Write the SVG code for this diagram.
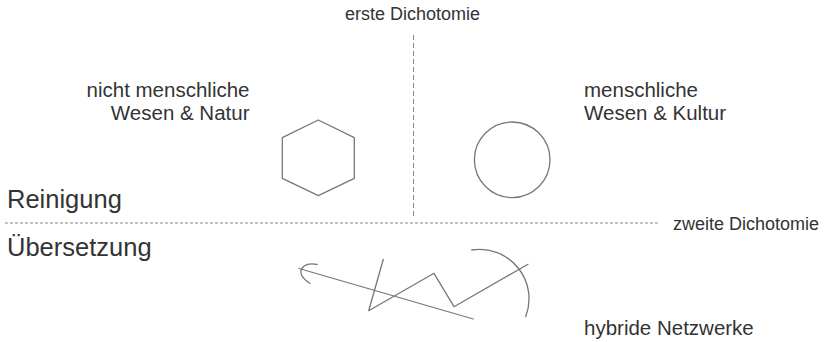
<svg xmlns="http://www.w3.org/2000/svg" width="824" height="342" viewBox="0 0 824 342">
  <style>
    text { font-family: "Liberation Sans", Arial, sans-serif; fill: #333; }
    .small { font-size: 18px; }
    .label { font-size: 20.5px; }
    .big { font-size: 25.5px; }
    .shape { fill: none; stroke: #777; stroke-width: 1.3; stroke-linejoin: round; stroke-linecap: round; }
    .divider { fill: none; stroke: #888; stroke-width: 1; }
  </style>
  <rect width="824" height="342" fill="#fff"/>

  <!-- dividing lines -->
  <g id="dividers">
    <line class="divider" x1="413.5" y1="35" x2="413.5" y2="217" stroke-dasharray="5 3"/>
    <line class="divider" x1="5" y1="223" x2="658" y2="223" stroke-dasharray="3 2"/>
  </g>

  <g id="erste-dichotomie">
    <text class="small" x="345" y="20">erste Dichotomie</text>
  </g>
  <g id="zweite-dichotomie">
    <text class="small" x="673" y="229.5">zweite Dichotomie</text>
  </g>

  <g id="reinigung">
    <text class="big" x="7" y="207.5">Reinigung</text>
  </g>
  <g id="uebersetzung">
    <text class="big" x="7" y="256">Übersetzung</text>
  </g>

  <!-- nature side -->
  <g id="natur">
    <text class="label" text-anchor="end" x="249.5" y="96.5">nicht menschliche</text>
    <text class="label" text-anchor="end" x="249.5" y="119.5">Wesen &amp; Natur</text>
    <polygon class="shape" points="318.3,120 354.3,137.7 354.3,178.3 318.3,195.7 282.3,178.3 282.3,137.7"/>
  </g>

  <!-- culture side -->
  <g id="kultur">
    <text class="label" x="584" y="96.5">menschliche</text>
    <text class="label" x="584" y="119.5">Wesen &amp; Kultur</text>
    <circle class="shape" cx="512.2" cy="159.8" r="37.8"/>
  </g>

  <!-- hybrid networks -->
  <g id="netzwerke">
    <path class="shape" d="M317,264.5 C303,261 293,272 310,283.5"/>
    <line class="shape" x1="299" y1="268.5" x2="473.3" y2="319"/>
    <polyline class="shape" points="383.3,259.3 368.7,310.7 434,273.3 454,306.7 528,264.3"/>
    <path class="shape" d="M471.7,250 A49.5,49.5 0 0 1 525.7,316.7"/>
    <text class="label" x="584" y="335">hybride Netzwerke</text>
  </g>
</svg>
